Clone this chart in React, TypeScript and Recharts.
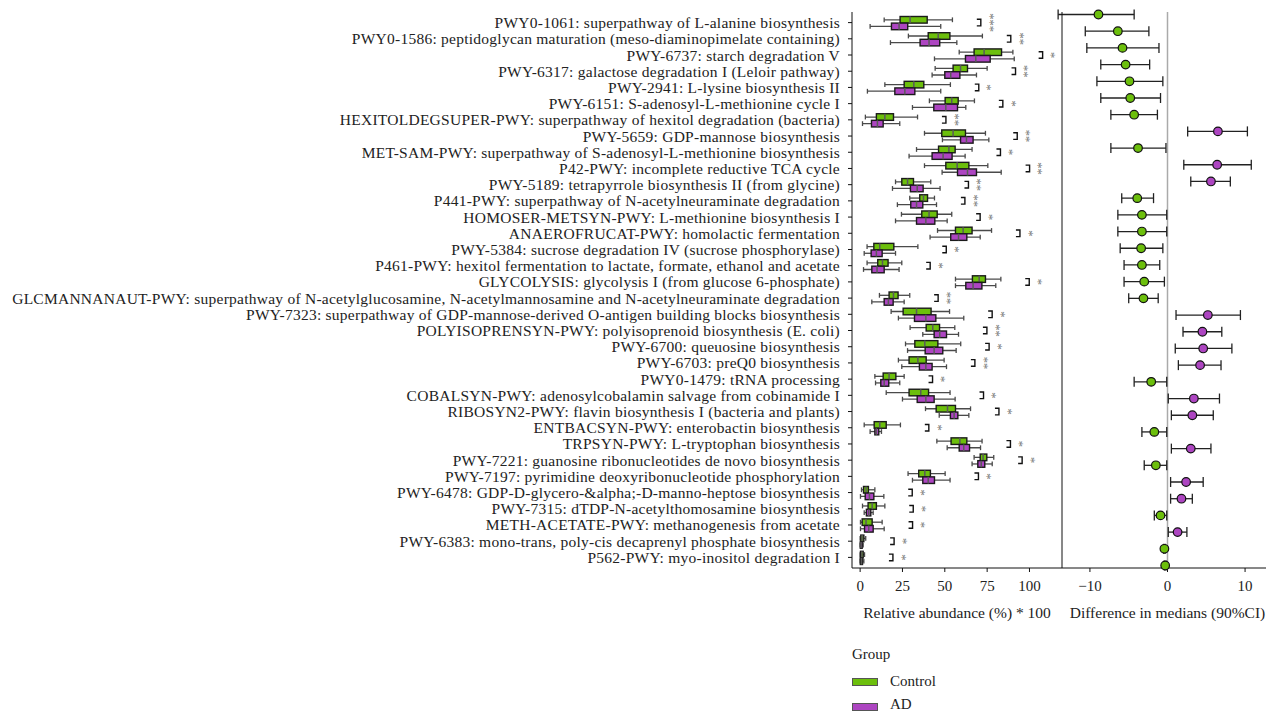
import React from "react";
import { ComposedChart, Bar, Scatter, XAxis, YAxis, ErrorBar, ReferenceLine, Label } from "recharts";

const GREEN = "#6cbf0c";
const PURPLE = "#ad45c1";
const FONT = "'Liberation Serif', 'Times New Roman', serif";

const pathways = [
  "PWY0-1061: superpathway of L-alanine biosynthesis",
  "PWY0-1586: peptidoglycan maturation (meso-diaminopimelate containing)",
  "PWY-6737: starch degradation V",
  "PWY-6317: galactose degradation I (Leloir pathway)",
  "PWY-2941: L-lysine biosynthesis II",
  "PWY-6151: S-adenosyl-L-methionine cycle I",
  "HEXITOLDEGSUPER-PWY: superpathway of hexitol degradation (bacteria)",
  "PWY-5659: GDP-mannose biosynthesis",
  "MET-SAM-PWY: superpathway of S-adenosyl-L-methionine biosynthesis",
  "P42-PWY: incomplete reductive TCA cycle",
  "PWY-5189: tetrapyrrole biosynthesis II (from glycine)",
  "P441-PWY: superpathway of N-acetylneuraminate degradation",
  "HOMOSER-METSYN-PWY: L-methionine biosynthesis I",
  "ANAEROFRUCAT-PWY: homolactic fermentation",
  "PWY-5384: sucrose degradation IV (sucrose phosphorylase)",
  "P461-PWY: hexitol fermentation to lactate, formate, ethanol and acetate",
  "GLYCOLYSIS: glycolysis I (from glucose 6-phosphate)",
  "GLCMANNANAUT-PWY: superpathway of N-acetylglucosamine, N-acetylmannosamine and N-acetylneuraminate degradation",
  "PWY-7323: superpathway of GDP-mannose-derived O-antigen building blocks biosynthesis",
  "POLYISOPRENSYN-PWY: polyisoprenoid biosynthesis (E. coli)",
  "PWY-6700: queuosine biosynthesis",
  "PWY-6703: preQ0 biosynthesis",
  "PWY0-1479: tRNA processing",
  "COBALSYN-PWY: adenosylcobalamin salvage from cobinamide I",
  "RIBOSYN2-PWY: flavin biosynthesis I (bacteria and plants)",
  "ENTBACSYN-PWY: enterobactin biosynthesis",
  "TRPSYN-PWY: L-tryptophan biosynthesis",
  "PWY-7221: guanosine ribonucleotides de novo biosynthesis",
  "PWY-7197: pyrimidine deoxyribonucleotide phosphorylation",
  "PWY-6478: GDP-D-glycero-&alpha;-D-manno-heptose biosynthesis",
  "PWY-7315: dTDP-N-acetylthomosamine biosynthesis",
  "METH-ACETATE-PWY: methanogenesis from acetate",
  "PWY-6383: mono-trans, poly-cis decaprenyl phosphate biosynthesis",
  "P562-PWY: myo-inositol degradation I",
];

const sigLabels = [
  "***", "**", "*", "**", "*", "*", "**", "**", "*", "**", "**", "**",
  "*", "*", "*", "*", "*", "**", "*", "**", "*", "**", "*", "*",
  "*", "*", "*", "*", "*", "*", "*", "*", "*", "*",
];

// [min, q1, median, q3, max]
const controlStats = [
  [14.2, 23.6, 29.5, 39.6, 54.5],
  [28.5, 40.2, 46.1, 53.0, 72.2],
  [58.5, 67.3, 73.2, 83.5, 90.2],
  [44.3, 54.9, 59.3, 63.4, 75.0],
  [14.6, 26.0, 31.7, 37.6, 53.3],
  [40.9, 50.2, 54.1, 57.9, 67.5],
  [3.1, 9.6, 14.6, 19.7, 33.9],
  [38.0, 48.2, 54.9, 62.2, 74.0],
  [33.3, 46.3, 52.4, 56.1, 66.1],
  [38.0, 50.6, 57.3, 64.2, 75.4],
  [20.9, 24.6, 28.0, 31.5, 41.7],
  [29.3, 35.2, 37.4, 39.8, 43.9],
  [24.4, 36.4, 40.7, 45.5, 54.1],
  [45.7, 56.3, 60.8, 66.1, 77.6],
  [4.1, 8.1, 11.6, 19.9, 34.1],
  [4.1, 10.4, 13.2, 16.5, 24.6],
  [56.3, 66.3, 70.3, 74.0, 83.1],
  [11.4, 17.1, 19.7, 22.4, 29.3],
  [18.3, 25.4, 33.3, 41.9, 52.8],
  [29.5, 39.0, 42.9, 46.9, 55.9],
  [26.8, 32.3, 38.2, 45.9, 59.4],
  [22.6, 28.9, 34.1, 39.0, 49.6],
  [8.7, 13.6, 17.1, 21.1, 26.0],
  [15.4, 28.9, 35.8, 40.4, 53.1],
  [38.6, 44.9, 51.6, 56.3, 65.2],
  [2.4, 8.3, 11.6, 15.4, 23.8],
  [45.3, 53.7, 58.9, 63.0, 72.0],
  [67.3, 70.9, 72.6, 74.8, 78.9],
  [28.3, 34.6, 38.2, 41.5, 50.2],
  [0.8, 2.0, 3.5, 4.9, 8.7],
  [1.4, 4.7, 7.1, 9.6, 14.6],
  [0.2, 1.2, 3.5, 7.1, 13.0],
  [0.0, 0.4, 1.2, 2.2, 3.3],
  [0.0, 0.2, 1.0, 1.8, 2.6],
];

const adStats = [
  [5.9, 18.5, 23.0, 28.1, 47.6],
  [17.9, 35.4, 40.7, 47.0, 57.1],
  [43.9, 62.2, 68.3, 76.8, 91.0],
  [42.5, 50.0, 53.5, 58.9, 68.7],
  [4.3, 20.5, 26.4, 32.3, 47.6],
  [30.9, 43.5, 50.6, 57.5, 62.4],
  [1.4, 6.7, 10.2, 13.6, 23.4],
  [48.6, 59.3, 62.8, 66.7, 76.0],
  [28.9, 42.5, 49.0, 54.3, 62.0],
  [48.4, 57.5, 63.4, 68.7, 83.3],
  [19.1, 29.7, 33.7, 37.2, 47.2],
  [22.0, 29.9, 33.3, 37.0, 45.1],
  [20.9, 33.3, 38.8, 44.1, 51.4],
  [41.3, 53.5, 58.1, 63.0, 70.9],
  [2.4, 6.5, 9.6, 13.0, 20.9],
  [2.0, 6.9, 10.0, 14.2, 23.0],
  [56.3, 62.4, 66.7, 71.9, 80.1],
  [6.9, 14.2, 16.7, 19.5, 26.0],
  [22.6, 32.1, 38.8, 44.7, 61.2],
  [37.0, 43.7, 47.0, 51.0, 58.1],
  [28.0, 38.4, 43.7, 48.8, 56.7],
  [24.6, 35.0, 38.8, 42.5, 51.0],
  [9.1, 12.2, 14.2, 16.9, 23.4],
  [25.0, 33.7, 38.8, 43.7, 56.1],
  [46.7, 53.3, 55.5, 57.7, 64.2],
  [5.9, 8.7, 9.6, 11.0, 12.6],
  [51.4, 58.5, 61.2, 64.6, 71.1],
  [66.1, 69.5, 71.5, 73.6, 78.0],
  [30.9, 37.0, 40.2, 43.9, 53.1],
  [0.2, 3.0, 5.5, 8.1, 14.0],
  [2.4, 3.7, 5.1, 6.3, 7.7],
  [0.2, 2.6, 5.1, 7.7, 14.2],
  [0.0, 0.1, 0.5, 1.2, 1.8],
  [0.0, 0.1, 0.8, 1.4, 2.2],
];

const diffMedian = [
  -8.9, -6.4, -5.8, -5.4, -4.9, -4.8, -4.3, 6.5, -3.8, 6.4, 5.6, -3.9,
  -3.3, -3.3, -3.4, -3.3, -3.0, -3.1, 5.2, 4.5, 4.6, 4.2, -2.1, 3.4,
  3.2, -1.7, 3.0, -1.5, 2.4, 1.8, -0.9, 1.3, -0.4, -0.3,
];
const diffLow = [
  -14.1, -10.6, -10.4, -8.6, -9.1, -8.6, -7.3, 2.6, -7.3, 2.1, 3.0, -5.9,
  -6.4, -6.4, -6.1, -5.6, -5.6, -5.0, 1.1, 2.0, 1.0, 1.4, -4.3, 0.1,
  0.5, -3.3, 0.5, -3.0, 0.4, 0.4, -1.7, 0.1, -0.5, -0.4,
];
const diffHigh = [
  -4.3, -2.4, -1.1, -2.3, -0.6, -0.9, -1.3, 10.3, -0.2, 10.8, 8.1, -1.8,
  -0.1, -0.1, -0.6, -1.0, -0.4, -1.2, 9.4, 7.0, 8.3, 6.9, -0.1, 6.7,
  5.9, -0.1, 5.6, -0.1, 4.6, 3.2, -0.1, 2.5, -0.3, -0.2,
];

const boxRows = pathways.map((name, i) => ({
  name,
  cRange: [controlStats[i][0], controlStats[i][4]],
  aRange: [adStats[i][0], adStats[i][4]],
  control: controlStats[i],
  ad: adStats[i],
  sigX: Math.max(controlStats[i][4], adStats[i][4]) + 15.7,
  sig: sigLabels[i],
}));

const diffRows = pathways.map((name, i) => ({
  name,
  diff: diffMedian[i],
  ci: [diffMedian[i] - diffLow[i], diffHigh[i] - diffMedian[i]],
}));

const renderBox = (props: any, stats: number[], fill: string) => {
  const { x, y, width, height } = props;
  const [mn, q1, med, q3, mx] = stats;
  const px = (v: number) => x + ((v - mn) / (mx - mn || 1)) * width;
  const cy = y + height / 2;
  return (
    <g>
      <line x1={px(mn)} x2={px(mx)} y1={cy} y2={cy} stroke="#4a4a4a" strokeWidth={1.3} />
      <line x1={px(mn)} x2={px(mn)} y1={cy - 2.4} y2={cy + 2.4} stroke="#4a4a4a" strokeWidth={1.3} />
      <line x1={px(mx)} x2={px(mx)} y1={cy - 2.4} y2={cy + 2.4} stroke="#4a4a4a" strokeWidth={1.3} />
      <rect x={px(q1)} y={y} width={Math.max(px(q3) - px(q1), 0.5)} height={height} fill={fill} stroke="#1a1a1a" strokeWidth={1.4} />
      <line x1={px(med)} x2={px(med)} y1={y} y2={y + height} stroke="#5a5a5a" strokeWidth={1.5} />
    </g>
  );
};

// significance: bracket joining both boxes, stars written vertically
const SigShape = (props: any) => {
  const { cx, cy, payload } = props;
  const sx = cx + 13.5;
  return (
    <g>
      <path
        d={`M${cx - 2.2},${cy - 3.3} H${cx + 1.8} V${cy + 3.3} H${cx - 2.2}`}
        fill="none"
        stroke="#111"
        strokeWidth={1.4}
      />
      <text
        x={sx - 7}
        y={cy}
        transform={`rotate(90 ${sx - 7} ${cy})`}
        textAnchor="middle"
        fontSize={12.5}
        fill="#777"
        fontFamily={FONT}
      >
        {payload.sig}
      </text>
    </g>
  );
};

const DiffDot = (props: any) => {
  const { cx, cy, payload } = props;
  return (
    <circle cx={cx} cy={cy} r={4.3} fill={payload.diff < 0 ? GREEN : PURPLE} stroke="#111" strokeWidth={1.2} />
  );
};

const tickStyle = { fontSize: 15, fill: "#222", fontFamily: FONT };
const titleStyle = { fontSize: 15.5, fill: "#222", fontFamily: FONT };
const CHART_H = 630;
const MARGIN = { top: 12, right: 0, bottom: 0, left: 0 };
const PAD = { top: 2.5, bottom: 2.5 };

export default function App() {
  return (
    <div style={{ position: "relative", width: 1266, height: 711, overflow: "hidden", fontFamily: FONT, background: "#fff" }}>
      <style>{"html,body{margin:0;padding:0;overflow:hidden;}"}</style>
      <div style={{ position: "absolute", left: 0, top: 0 }}>
        <ComposedChart width={1062} height={CHART_H} data={boxRows} layout="vertical" margin={MARGIN} barGap={0}>
          <XAxis
            type="number"
            domain={[-4.8, 119.2]}
            ticks={[0, 25, 50, 75, 100]}
            allowDataOverflow
            stroke="#111"
            tickSize={4}
            tickMargin={8}
            height={62}
            tick={tickStyle}
          >
            <Label value="Relative abundance (%) * 100" position="insideBottom" offset={12} style={titleStyle} />
          </XAxis>
          <YAxis
            type="category"
            dataKey="name"
            width={852}
            interval={0}
            stroke="#111"
            tickSize={4}
            tickMargin={8}
            padding={PAD}
            tick={{ fontSize: 15.5, fill: "#222", fontFamily: FONT, letterSpacing: 0.25 }}
          />
          <Bar
            dataKey="cRange"
            barSize={6.6}
            isAnimationActive={false}
            shape={(p: any) => renderBox(p, p.payload.control, GREEN)}
          />
          <Bar
            dataKey="aRange"
            barSize={6.6}
            isAnimationActive={false}
            shape={(p: any) => renderBox(p, p.payload.ad, PURPLE)}
          />
          <Scatter dataKey="sigX" isAnimationActive={false} shape={SigShape} />
        </ComposedChart>
      </div>
      <div style={{ position: "absolute", left: 1052, top: 0 }}>
        <ComposedChart width={221} height={CHART_H} data={diffRows} layout="vertical" margin={MARGIN}>
          <XAxis
            type="number"
            domain={[-13.6, 13.6]}
            ticks={[-10, 0, 10]}
            allowDataOverflow
            stroke="#111"
            tickSize={4}
            tickMargin={8}
            height={62}
            tick={tickStyle}
            tickFormatter={(v: number) => (v < 0 ? `\u2212${Math.abs(v)}` : `${v}`)}
          >
            <Label value="Difference in medians (90%CI)" position="insideBottom" offset={12} style={titleStyle} />
          </XAxis>
          <YAxis
            type="category"
            dataKey="name"
            width={10}
            interval={0}
            stroke="#111"
            tickSize={4}
            tick={false}
            padding={PAD}
          />
          <ReferenceLine x={0} stroke="#aaa" strokeWidth={1.5} />
          <Scatter dataKey="diff" isAnimationActive={false} shape={DiffDot}>
            <ErrorBar dataKey="ci" direction="x" width={5} stroke="#222" strokeWidth={1.3} />
          </Scatter>
        </ComposedChart>
      </div>
      <div style={{ position: "absolute", left: 852, top: 644, fontSize: 15, color: "#222", lineHeight: "20px" }}>
        Group
      </div>
      <div style={{ position: "absolute", left: 852, top: 678, width: 24, height: 6, background: GREEN, border: "1px solid #555" }} />
      <div style={{ position: "absolute", left: 890, top: 671, fontSize: 15, color: "#222", lineHeight: "20px" }}>
        Control
      </div>
      <div style={{ position: "absolute", left: 852, top: 703, width: 24, height: 6, background: PURPLE, border: "1px solid #555" }} />
      <div style={{ position: "absolute", left: 890, top: 694, fontSize: 15, color: "#222", lineHeight: "20px" }}>
        AD
      </div>
    </div>
  );
}
